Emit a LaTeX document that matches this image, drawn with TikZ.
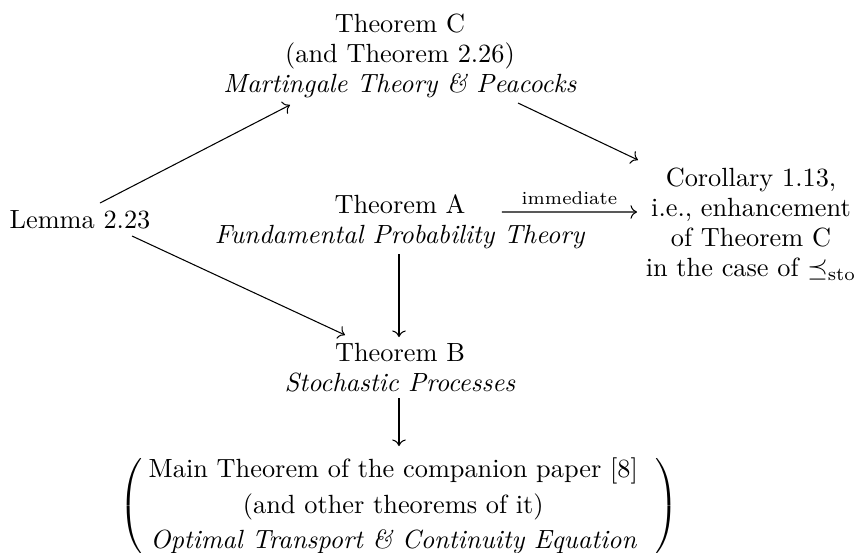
\documentclass[tikz,border=0pt]{standalone}
\usepackage{amsmath}
\usetikzlibrary{arrows.meta}
\begin{document}
\begin{tikzpicture}[x=0.38pt,y=-0.38pt,
  lbl/.style={align=center,inner sep=3.33pt,font=\fontsize{10}{11.4}\selectfont},
  arr/.style={-{Computer Modern Rightarrow},line width=0.4pt}]
\useasboundingbox (0,0) rectangle (858,553);
\node[lbl] (thmC) at (400,56) {Theorem C\\(and Theorem 2.26)\\\textit{Martingale Theory \& Peacocks}};
\node[lbl] (lemma) at (80,220) {Lemma 2.23};
\node[lbl] (thmA) at (400,222) {Theorem A\\\textit{Fundamental Probability Theory}};
\node[lbl] (cor) at (751,224) {Corollary 1.13,\\i.e., enhancement\\of Theorem C\\in the case of $\preceq_{\mathrm{sto}}$};
\node[lbl] (thmB) at (400,368) {Theorem B\\\textit{Stochastic Processes}};
\node[inner sep=0pt] (main) at (399,506) {\renewcommand{\arraystretch}{1.11}$\left(\begin{array}{@{\hspace{2.2pt}}c@{\hspace{6.5pt}}}\text{Main Theorem of the companion paper [8]}\\\text{(and other theorems of it)}\\\textit{Optimal Transport \& Continuity Equation}\end{array}\right)$};
\draw[arr] ([shift={(7.6pt,6.46pt)}]lemma.center) -- ([shift={(-41.8pt,-18.6pt)}]thmC.center);
\draw[arr] ([shift={(19.76pt,-6.08pt)}]lemma.center) -- ([shift={(-20.9pt,12.54pt)}]thmB.center);
\draw[arr] ([shift={(44.84pt,-17.86pt)}]thmC.center) -- ([shift={(-42.94pt,24.32pt)}]cor.center);
\draw[arr] ([shift={(38.76pt,3.8pt)}]thmA.center) -- node[above,inner sep=2.5pt]{$\scriptstyle\text{immediate}$} ([shift={(-43.32pt,4.56pt)}]cor.center);
\draw[arr] ([shift={(-0.38pt,-12.16pt)}]thmA.center) -- ([shift={(-0.38pt,11.78pt)}]thmB.center);
\draw[arr] ([shift={(-0.38pt,-11.4pt)}]thmB.center) -- ([shift={(0pt,22.8pt)}]main.center);
\end{tikzpicture}
\end{document}
